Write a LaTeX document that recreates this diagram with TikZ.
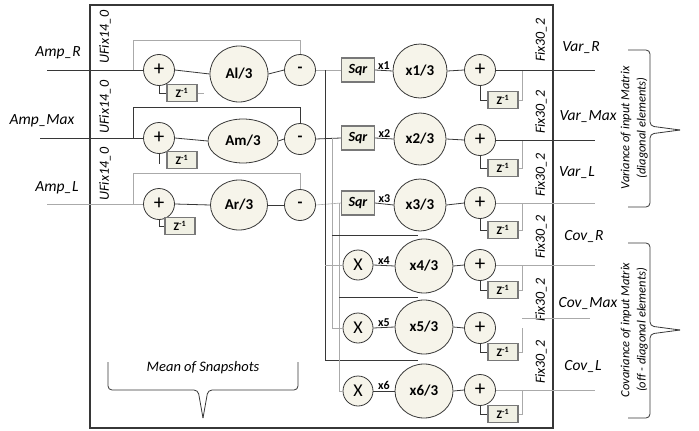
\documentclass[tikz,border=0pt]{standalone}
\usepackage{fontspec}
\setmainfont{Carlito}
\usetikzlibrary{shapes.geometric, arrows.meta, positioning, calc}
\definecolor{cellFill}{RGB}{246, 244, 234}
\definecolor{boxFill}{RGB}{240, 240, 228}
\definecolor{wireDark}{RGB}{55, 55, 55}
\definecolor{wireLight}{RGB}{170, 170, 170}
\definecolor{boxEdge}{RGB}{120, 120, 120}

\begin{document}
\begin{tikzpicture}[
    x=1pt, y=-1pt,
    adder/.style={
        circle,
        draw=wireDark,
        fill=cellFill,
        line width=0.8pt,
        minimum size=31pt,
        inner sep=0pt,
        font=\fontsize{21}{21}\selectfont
    },
    divider/.style={
        ellipse,
        draw=wireDark,
        fill=cellFill,
        line width=0.8pt,
        inner sep=0pt,
        font=\fontsize{15}{15}\selectfont\bfseries
    },
    delay/.style={
        rectangle,
        draw=boxEdge,
        fill=boxFill,
        line width=1.2pt,
        minimum width=30pt,
        minimum height=17pt,
        inner sep=0pt,
        font=\fontsize{11.5}{12}\selectfont\bfseries
    },
    squarer/.style={
        delay,
        minimum width=33pt,
        minimum height=24pt,
        font=\fontsize{14}{14}\selectfont\bfseries\itshape
    },
    fixtag/.style={rotate=90, font=\fontsize{14}{14}\selectfont\itshape},
    signal/.style={font=\fontsize{15.5}{16}\selectfont\itshape},
    sqtag/.style={font=\fontsize{12}{12}\selectfont\bfseries, inner sep=1pt},
    wire/.style={draw=wireDark, line width=0.8pt},
    faint/.style={draw=wireLight, line width=0.6pt},
    note/.style={font=\fontsize{12.5}{13}\selectfont\itshape, rotate=90}
]
\useasboundingbox (0,0) rectangle (699,431);

% Outer block
\draw[line width=1.4pt, draw=wireDark] (90,5) rectangle (553,428);

% Inputs
\coordinate (inR) at (47,70);
\coordinate (inM) at (40,138);
\coordinate (inL) at (47,204);
\node[signal] (lblAmpR) at (58,53) {Amp\_R};
\node[signal] (lblAmpM) at (42,121) {Amp\_Max};
\node[signal] (lblAmpL) at (57,188) {Amp\_L};
\node[fixtag] (fixInR) at (105,37) {UFix14\_0};
\node[fixtag] (fixInM) at (105,107) {UFix14\_0};
\node[fixtag] (fixInL) at (105,174) {UFix14\_0};

% Mean of snapshots
\node[adder] (addR) at (159,70) {+};
\node[adder] (addM) at (159,138) {+};
\node[adder] (addL) at (159,204) {+};
\node[delay] (zR) at (182,93) {Z\textsuperscript{-1}};
\node[delay] (zM) at (182,160) {Z\textsuperscript{-1}};
\node[delay] (zL) at (180,226) {Z\textsuperscript{-1}};
\node[divider, minimum width=58pt, minimum height=56pt] (divR) at (239,74) {Al/3};
\node[divider, minimum width=70pt, minimum height=44pt] (divM) at (243,141) {Am/3};
\node[divider, minimum width=57pt, minimum height=50pt] (divL) at (239,205) {Ar/3};
\node[adder, font=\fontsize{16}{16}\selectfont\bfseries] (subR) at (300,70) {-};
\node[adder, font=\fontsize{16}{16}\selectfont\bfseries] (subM) at (300,139) {-};
\node[adder, font=\fontsize{16}{16}\selectfont\bfseries] (subL) at (300,205) {-};

% Squares and products
\node[squarer] (sqR) at (358,70) {Sqr};
\node[squarer] (sqM) at (358,138) {Sqr};
\node[squarer] (sqL) at (358,203) {Sqr};
\node[adder, minimum size=30pt, font=\fontsize{18}{18}\selectfont] (mul4) at (358,265) {X};
\node[adder, minimum size=30pt, font=\fontsize{18}{18}\selectfont] (mul5) at (358,328) {X};
\node[adder, minimum size=30pt, font=\fontsize{18}{18}\selectfont] (mul6) at (358,391) {X};
\node[divider, minimum size=54pt] (d1) at (420,71) {x1/3};
\node[divider, minimum size=52pt] (d2) at (420,139) {x2/3};
\node[divider, minimum size=52pt] (d3) at (420,205) {x3/3};
\node[divider, minimum width=58pt, minimum height=54pt] (d4) at (424,266) {x4/3};
\node[divider, minimum width=58pt, minimum height=54pt] (d5) at (424,327) {x5/3};
\node[divider, minimum width=58pt, minimum height=54pt] (d6) at (424,391) {x6/3};

% Accumulators
\node[adder] (acc1) at (480,70) {+};
\node[adder] (acc2) at (480,140) {+};
\node[adder] (acc3) at (480,203) {+};
\node[adder] (acc4) at (480,265) {+};
\node[adder] (acc5) at (480,328) {+};
\node[adder] (acc6) at (480,390) {+};
\node[delay] (zo1) at (503,100) {Z\textsuperscript{-1}};
\node[delay] (zo2) at (503,168) {Z\textsuperscript{-1}};
\node[delay] (zo3) at (503,230) {Z\textsuperscript{-1}};
\node[delay] (zo4) at (503,290) {Z\textsuperscript{-1}};
\node[delay] (zo5) at (503,352) {Z\textsuperscript{-1}};
\node[delay] (zo6) at (503,414) {Z\textsuperscript{-1}};

% Outputs
\coordinate (out1) at (595,70);
\coordinate (out2) at (595,140);
\coordinate (out3) at (595,203);
\coordinate (out4) at (595,265);
\coordinate (out5) at (590,318);
\coordinate (out6) at (595,390);
\node[fixtag] (fix1) at (541,40) {Fix30\_2};
\node[fixtag] (fix2) at (541,112) {Fix30\_2};
\node[fixtag] (fix3) at (541,175) {Fix30\_2};
\node[fixtag] (fix4) at (541,237) {Fix30\_2};
\node[fixtag] (fix5) at (541,300) {Fix30\_2};
\node[fixtag] (fix6) at (541,362) {Fix30\_2};
\node[signal] (lblVarR) at (581,48) {Var\_R};
\node[signal] (lblVarM) at (588,117) {Var\_Max};
\node[signal] (lblVarL) at (577,173) {Var\_L};
\node[signal] (lblCovR) at (584,237) {Cov\_R};
\node[signal] (lblCovM) at (588,304) {Cov\_Max};
\node[signal] (lblCovL) at (583,367) {Cov\_L};

% Input rows
\draw[wire] (inR) -- (addR.west);
\draw[wire] (inM) -- (addM.west);
\draw[faint] (inL) -- (addL.west);
\draw[wire] (addR.east) -- (divR.west);
\draw[wire] (addM.east) -- (divM.west);
\draw[wire] (addL.east) -- (divL.west);
\draw[wire] (divR.east) -- (subR.west);
\draw[wire] (divM.east) -- (subM.west);
\draw[wire] (divL.east) -- (subL.west);
\draw[wire] (addR.south) |- (zR.west);
\draw[wire] (addM.south) -- ++(0,10);
\draw[wire] (addL.south) |- (zL.west);
\draw[faint] (zR.east) -- ++(6,0);

% Feedback of the raw sample
\draw[faint] (133,70) -- (133,40) -| (subR.north);
\draw[wire] (133,138) -- (133,107) -| (subM.north);
\draw[faint] (133,204) -- (133,173) -| (subL.north);

% Deviations to squarers
\draw[faint] (subR.east) -- (sqR.west);
\draw[wire] (subM.east) -- (sqM.west);
\draw[faint] (subL.east) -- (sqL.west);
\draw[wire] (sqR.east) -- node[sqtag, above] {x1} (d1.west);
\draw[wire] (sqM.east) -- node[sqtag, above] {x2} (d2.west);
\draw[wire] (sqL.east) -- node[sqtag, above] {x3} (d3.west);

% Deviations to multipliers
\draw[wire] (325,70) -- (325,360) -- (418,360);
\draw[faint] (325,265) -- (mul4.west);
\draw[faint] (332,138) |- (mul5.west);
\draw[faint] (339,203) |- (mul6.west);
\draw[wire] (332,235) -- (418,235);
\draw[wire] (339,297) -- (418,297);
\draw[wire] (mul4.east) -- node[sqtag, above] {x4} (d4.west);
\draw[wire] (mul5.east) -- node[sqtag, above] {x5} (d5.west);
\draw[wire] (mul6.east) -- node[sqtag, above] {x6} (d6.west);

% Accumulation
\foreach \i in {1,...,6} {
    \draw[wire] (d\i.east) -- (acc\i.west);
    \draw[wire] (acc\i.south) |- (zo\i.west);
    \draw[faint] (zo\i.east) -- (522,0 |- zo\i.east) -- (522,0 |- acc\i.east);
}
\draw[wire] (acc1.east) -- (out1);
\draw[wire] (acc2.east) -- (out2);
\draw[faint] (acc3.east) -- (out3);
\draw[faint] (acc4.east) -- (out4);
\draw[faint] (522,318) -- (out5);
\draw[faint] (acc6.east) -- (out6);

% Braces
\draw[wire, rounded corners=4pt] (108,362) -- (108,390) -- (198,390) -- (203,418);
\draw[wire, rounded corners=4pt] (298,362) -- (298,390) -- (208,390) -- (203,418);
\node[font=\fontsize{14.5}{15}\selectfont\itshape] (lblMean) at (203,368) {Mean of Snapshots};

\draw[wire, rounded corners=4pt] (628,50) -- (650,50) -- (650,126) -- (680,130);
\draw[wire, rounded corners=4pt] (628,207) -- (650,207) -- (650,134) -- (680,130);
\node[note] (lblVar1) at (626,128) {Variance of input Matrix};
\node[note] (lblVar2) at (642,128) {(diagonal elements)};

\draw[wire, rounded corners=4pt] (628,243) -- (650,243) -- (650,326) -- (680,330);
\draw[wire, rounded corners=4pt] (628,418) -- (650,418) -- (650,334) -- (680,330);
\node[note] (lblCov1) at (626,330) {Covariance of input Matrix};
\node[note] (lblCov2) at (642,330) {(off - diagonal elements)};

\end{tikzpicture}
\end{document}
